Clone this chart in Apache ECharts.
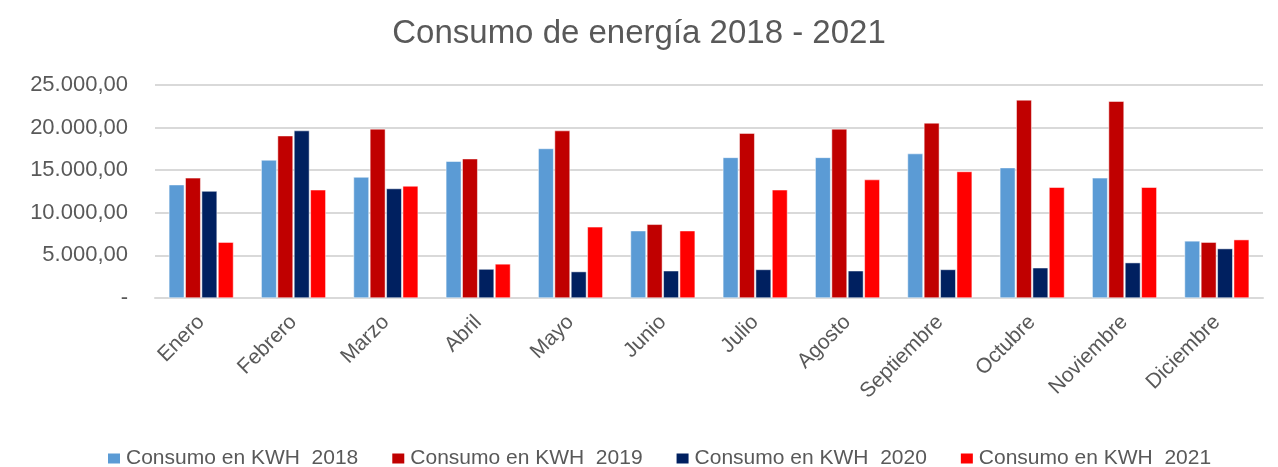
<!DOCTYPE html>
<html><head><meta charset="utf-8">
<script src="https://cdn.jsdelivr.net/npm/echarts@6/dist/echarts.min.js"></script>
<style>html,body{margin:0;padding:0;background:#fff}#c{width:1278px;height:467px}</style>
</head><body><div id="c"></div>
<script>
const categories = ['Enero','Febrero','Marzo','Abril','Mayo','Junio','Julio','Agosto','Septiembre','Octubre','Noviembre','Diciembre'];
const seriesNames = ['Consumo en KWH  2018','Consumo en KWH  2019','Consumo en KWH  2020','Consumo en KWH  2021'];
const v2018 = [13300,16200,14200,16050,17550,7900,16500,16500,16950,15300,14100,6700];
const v2019 = [14100,19050,19850,16350,19650,8650,19350,19850,20550,23250,23100,6550];
const v2020 = [12550,19650,12850,3400,3100,3200,3350,3200,3350,3550,4150,5800];
const v2021 = [6550,12700,13150,4000,8350,7900,12700,13900,14850,13000,13000,6850];
const colors = ['#5B9BD5','#C00000','#002060','#FF0000'];
const FONT = 'Liberation Sans';
function fmt(v){
  if (v === 0) return '-';
  const s = String(Math.round(v)).replace(/\B(?=(\d{3})+(?!\d))/g,'.');
  return s + ',00';
}
const chart = echarts.init(document.getElementById('c'));
const data = [v2018,v2019,v2020,v2021];
chart.setOption({
  animation:false,
  color: colors,
  title:{text:'Consumo de energía 2018 - 2021',left:'center',top:12,
    textStyle:{fontFamily:FONT,fontSize:33,fontWeight:'normal',color:'#595959'}},
  grid:{left:155,right:15,top:85,bottom:169},
  legend:{top:443,left:101,itemWidth:14,itemHeight:12,itemGap:32,icon:'rect',
    textStyle:{fontFamily:FONT,fontSize:21,color:'#595959'}},
  xAxis:{type:'category',data:categories,
    axisLine:{lineStyle:{color:'#D9D9D9',width:2}},axisTick:{show:false},
    axisLabel:{rotate:45,interval:0,fontFamily:FONT,fontSize:21,color:'#595959',margin:21}},
  yAxis:{type:'value',min:0,max:25000,interval:5000,
    axisLine:{show:false},axisTick:{show:false},
    splitLine:{lineStyle:{color:'#D9D9D9',width:2}},
    axisLabel:{formatter:fmt,fontFamily:FONT,fontSize:22,color:'#595959',margin:27}},
  series: data.map((d,i)=>({name:seriesNames[i],type:'bar',data:d,
    barGap:'6%',barCategoryGap:'30%',
    itemStyle:{color:colors[i],borderColor:'#fff',borderWidth:0.5}}))
});
</script></body></html>
